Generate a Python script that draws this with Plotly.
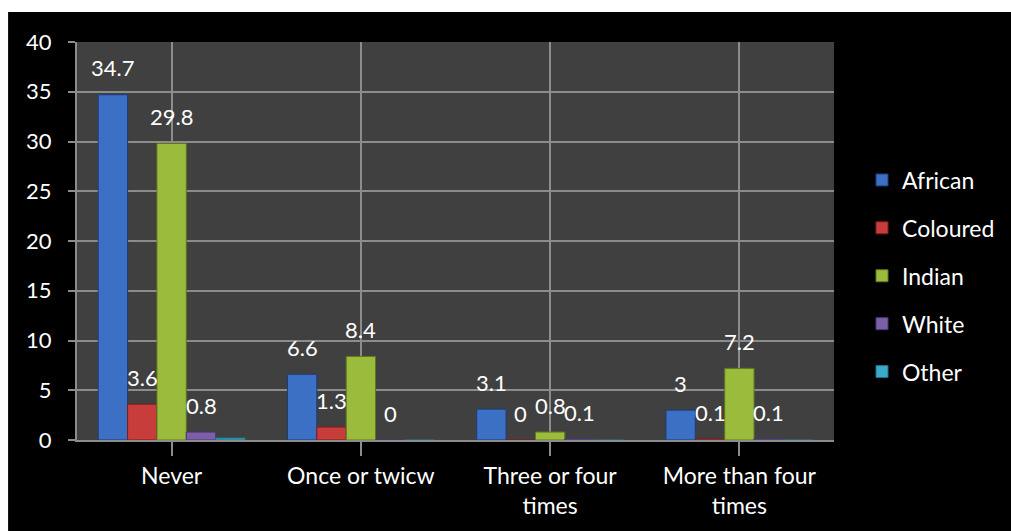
import plotly.graph_objects as go

categories = ["Never", "Once or twicw", "Three or four<br>times", "More than four<br>times"]
series_names = ["African", "Coloured", "Indian", "White", "Other"]
african = [34.7, 6.6, 3.1, 3.0]
coloured = [3.6, 1.3, 0.0, 0.1]
indian = [29.8, 8.4, 0.8, 7.2]
white = [0.8, 0.0, 0.1, 0.1]
other = [0.2, 0.0, 0.0, 0.0]
labelled = [True, True, True, True, False]

values = [african, coloured, indian, white, other]
fills = ["#3b70c4", "#c63d3b", "#9bbb3c", "#7c5ea9", "#3aaac8"]
edges = ["#1d3c78", "#7a1f1d", "#5e7620", "#4a3670", "#1f6f86"]

W, H = 1011, 531
ml, mr, mt, mb = 77, 176, 42, 91
pw, ph = W - ml - mr, H - mt - mb
FONT = "Lato, Calibri, sans-serif"

bargap = 0.224
group_w = 1 - bargap
bar_w = group_w / len(series_names)

fig = go.Figure()
annotations = []
for j, (name, vals) in enumerate(zip(series_names, values)):
    fig.add_trace(go.Bar(
        name=name, x=list(range(len(categories))), y=vals,
        marker=dict(color=fills[j], line=dict(color=edges[j], width=1)),
        legendgroup=name,
    ))
    if labelled[j]:
        off = -group_w / 2 + bar_w * (j + 0.5)
        for i, v in enumerate(vals):
            annotations.append(dict(
                x=i + off, y=v, xref="x", yref="y", text=f"{v:g}",
                showarrow=False, yshift=27, yanchor="middle",
                font=dict(color="white", size=22, family=FONT),
            ))

# white strip along the left and top edges of the canvas
px = lambda x: (x - ml) / pw
py = lambda y: (H - mb - y) / ph
shapes = [
    dict(type="rect", xref="paper", yref="paper", layer="above",
         x0=px(-2), x1=px(8), y0=py(H + 2), y1=py(-2),
         fillcolor="white", line=dict(width=0)),
    dict(type="rect", xref="paper", yref="paper", layer="above",
         x0=px(-2), x1=px(W + 2), y0=py(12), y1=py(-2),
         fillcolor="white", line=dict(width=0)),
]

fig.update_layout(
    width=W, height=H,
    margin=dict(l=ml, r=mr, t=mt, b=mb, pad=0),
    paper_bgcolor="black", plot_bgcolor="#404040",
    barmode="group", bargap=bargap, bargroupgap=0,
    font=dict(family=FONT, size=23, color="white"),
    showlegend=True,
    legend=dict(x=px(862), y=py(276), xanchor="left", yanchor="middle",
                font=dict(size=23, color="white", family=FONT),
                tracegroupgap=15, bgcolor="rgba(0,0,0,0)"),
    annotations=annotations,
    shapes=shapes,
)
fig.update_xaxes(
    tickmode="array", tickvals=list(range(len(categories))), ticktext=categories,
    range=[-0.5, len(categories) - 0.5],
    showgrid=True, gridcolor="#8c8c8c", gridwidth=2,
    showline=True, linecolor="#8c8c8c", linewidth=2,
    ticks="outside", ticklen=14, tickcolor="#8c8c8c", tickwidth=2,
    tickson="boundaries", tickfont=dict(size=23, color="white"),
    zeroline=False,
)
fig.update_yaxes(
    range=[0, 40], dtick=5, tick0=0,
    showgrid=True, gridcolor="#8c8c8c", gridwidth=2,
    showline=True, linecolor="#8c8c8c", linewidth=2,
    ticks="outside", ticklen=7, tickcolor="#8c8c8c", tickwidth=2,
    ticklabelstandoff=12,
    tickfont=dict(size=22, color="white"), zeroline=False,
)

fig.write_html("out.html")
